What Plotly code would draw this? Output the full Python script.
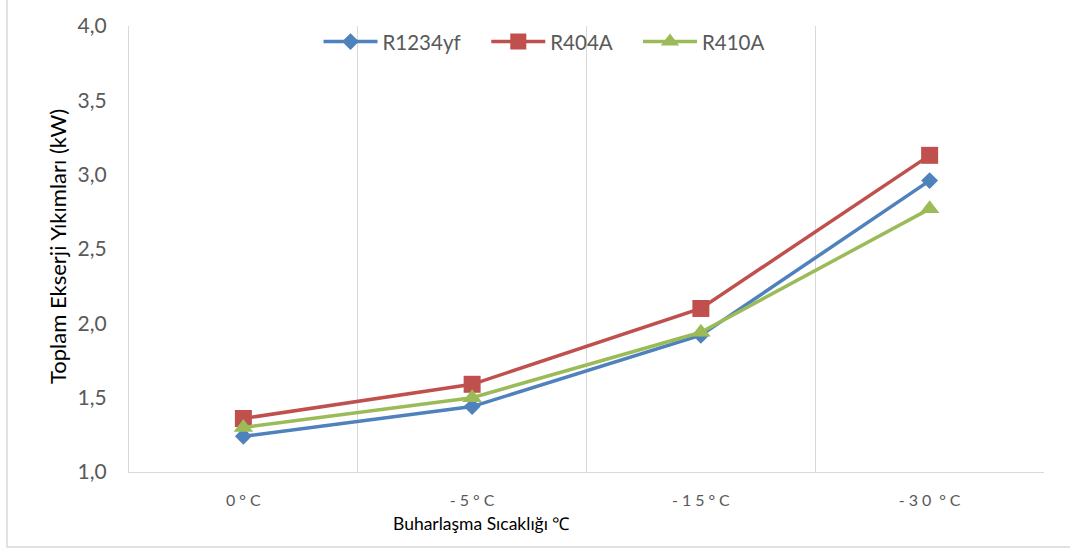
import plotly.graph_objects as go

# Evaporation temperatures (category labels on the x axis)
temperatures = ["0\u2005°\u2005C", "-\u20055\u2005°\u2005C", "-\u20051\u20055\u2005°\u2005C", "-\u20053\u20050\u2005\u2005°\u2005C"]

# Total exergy destruction (kW) for each refrigerant
r1234yf = [1.24, 1.44, 1.92, 2.96]
r404a = [1.36, 1.59, 2.10, 3.13]
r410a = [1.30, 1.50, 1.94, 2.77]

y_ticks = [1.0, 1.5, 2.0, 2.5, 3.0, 3.5, 4.0]

FONT = "Lato"
GRAY_TXT = "#595959"
GRID = "#D9D9D9"
PAD = "\u00a0" * 4  # extra room after a legend label

series = [
    ("R1234yf", PAD, r1234yf, "#4F81BD", "diamond", 13),
    ("R404A", PAD, r404a, "#C0504D", "square", 17),
    ("R410A", "", r410a, "#9BBB59", "triangle-up", 17),
]

fig = go.Figure()
for name, pad, vals, color, symbol, size in series:
    fig.add_trace(go.Scatter(
        x=temperatures, y=vals, name=name + pad, mode="lines+markers",
        line=dict(color=color, width=3.5),
        marker=dict(symbol=symbol, size=size, color=color, line=dict(width=0)),
    ))

W, H = 1070, 552
L, R, T, B = 129, 26, 20, 80
pw, ph = W - L - R, H - T - B


def px_x(p):
    return (p - L) / pw


def px_y(p):
    return (H - B - p) / ph


fig.update_layout(
    width=W, height=H,
    margin=dict(l=L, r=R, t=T, b=B, pad=0),
    paper_bgcolor="white", plot_bgcolor="white",
    separators=", ",
    font=dict(family=FONT, color=GRAY_TXT),
    showlegend=True,
    legend=dict(
        orientation="h", x=px_x(544), xanchor="center", y=px_y(36), yanchor="middle",
        bgcolor="rgba(0,0,0,0)", font=dict(size=20.5, color=GRAY_TXT, family=FONT),
        itemwidth=54, tracegroupgap=0,
    ),
    xaxis=dict(
        type="category", tickson="boundaries", range=[-0.5, 3.5],
        showgrid=True, gridcolor=GRID, gridwidth=1.3,
        showline=True, linecolor=GRID, linewidth=1.3,
        ticks="", ticklabelstandoff=14,
        tickfont=dict(size=16, color=GRAY_TXT, family=FONT),
        zeroline=False,
    ),
    yaxis=dict(
        range=[1.0, 4.0], tickvals=y_ticks, tickformat=".1f",
        showgrid=False, zeroline=False,
        showline=True, linecolor=GRID, linewidth=1.3,
        ticks="outside", ticklen=17, tickcolor="rgba(0,0,0,0)",
        tickfont=dict(size=21, color=GRAY_TXT, family=FONT),
    ),
    annotations=[
        dict(text="Toplam Ekserji Yıkımları (kW)", textangle=-90,
             xref="paper", yref="paper", x=px_x(57), y=px_y(244),
             xanchor="center", yanchor="middle", showarrow=False,
             font=dict(size=22, color="black", family=FONT)),
        dict(text="Buharlaşma Sıcaklığı ℃",
             xref="paper", yref="paper", x=px_x(481), y=px_y(524),
             xanchor="center", yanchor="middle", showarrow=False,
             font=dict(size=17.5, color="black", family=FONT)),
    ],
    shapes=[
        dict(type="rect", xref="paper", yref="paper",
             x0=px_x(7), x1=px_x(1100), y0=px_y(548), y1=px_y(-30),
             line=dict(color=GRID, width=1.5), fillcolor="rgba(0,0,0,0)", layer="below"),
    ],
)

fig.write_html("out.html")
